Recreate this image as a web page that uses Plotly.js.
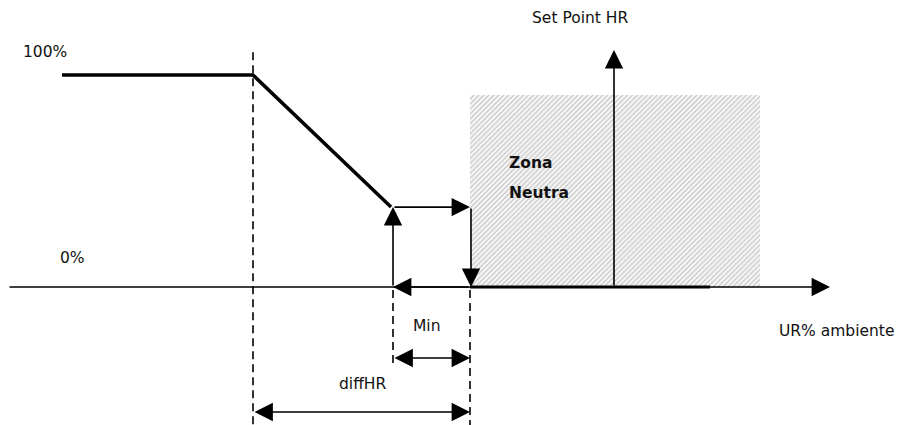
<!DOCTYPE html>
<html>
<head>
<meta charset="utf-8">
<script src="https://cdn.plot.ly/plotly-3.0.1.min.js"></script>
<style>
  html, body { margin: 0; padding: 0; background: #fff; }
  #chart { width: 901px; height: 425px; }
</style>
</head>
<body>
<div id="chart"></div>
<script>
// Humidifier output vs ambient RH (x = RH scale, y = output %)
const curveX = [62, 253, 391];
const curveY = [100, 100, 37.7];

// key RH points
const xAxisStart = 8, xAxisEnd = 830;
const xDiffStart = 253;     // set point - diffHR
const xMin = 393;           // start of Min band
const xOff = 470;           // end of band / start of neutral zone
const xSetPoint = 614;
const xNeutralEnd = 760;
const xOffLineEnd = 710;

const yMinLevel = 37.7;     // output at Min
const yNeutralTop = 90.6;
const ySetArrowTop = 111.8;
const yMinArrow = -33.5;
const yDiffArrow = -59;

const neutralX = [xOff, xNeutralEnd, xNeutralEnd, xOff, xOff];
const neutralY = [0, 0, yNeutralTop, yNeutralTop, 0];

const labels = [
  { text: '100%', x: 45, y: 110.8 },
  { text: '0%', x: 72, y: 13.7 },
  { text: 'Set Point HR', x: 580, y: 126.9 },
  { text: 'Min', x: 427, y: -18.4 },
  { text: 'diffHR', x: 362, y: -45.8 },
  { text: 'UR% ambiente', x: 837, y: -20.8 }
];

const font = { family: 'DejaVu Sans, Verdana, sans-serif', size: 15.5, color: '#111' };

const traces = [
  {
    x: neutralX, y: neutralY, mode: 'none', fill: 'toself',
    fillcolor: '#f6f6f6',
    fillpattern: { shape: '/', fgcolor: '#bdbdbd', bgcolor: '#f7f7f7', size: 3.5, solidity: 0.3 },
    hoverinfo: 'skip'
  },
  {
    x: curveX, y: curveY, mode: 'lines',
    line: { color: '#000', width: 3.5 }, hoverinfo: 'skip'
  },
  {
    x: [xOff, xOffLineEnd], y: [0, 0], mode: 'lines',
    line: { color: '#000', width: 3 }, hoverinfo: 'skip'
  }
];

function arrow(x0, y0, x1, y1, both) {
  return {
    x: x1, y: y1, ax: x0, ay: y0, xref: 'x', yref: 'y', axref: 'x', ayref: 'y',
    showarrow: true, arrowhead: 2, arrowsize: 2.3, arrowwidth: 1.6,
    arrowcolor: '#000', arrowside: both ? 'end+start' : 'end', text: ''
  };
}

const annotations = [
  arrow(xAxisStart, 0, xAxisEnd, 0),
  arrow(xSetPoint, 0, xSetPoint, ySetArrowTop),
  arrow(xMin, 0, xMin, yMinLevel),
  arrow(xMin, yMinLevel, xOff, yMinLevel),
  arrow(xOff + 1, yMinLevel, xOff + 1, 0),
  arrow(xOff, 0, xMin, 0),
  arrow(xMin, yMinArrow, xOff, yMinArrow, true),
  arrow(xDiffStart, yDiffArrow, xOff, yDiffArrow, true)
];

labels.forEach(l => {
  annotations.push({ x: l.x, y: l.y, xref: 'x', yref: 'y', text: l.text, showarrow: false, font: font });
});
annotations.push({ x: 507, y: 58.5, xref: 'x', yref: 'y', xanchor: 'left', text: '<b>Zona</b>', showarrow: false, font: font });
annotations.push({ x: 507, y: 44.3, xref: 'x', yref: 'y', xanchor: 'left', text: '<b>Neutra</b>', showarrow: false, font: font });

const dash = { color: '#000', width: 1.6, dash: '8px,5px' };
const shapes = [
  { type: 'line', x0: xDiffStart, x1: xDiffStart, y0: 110.8, y1: -65.1, line: dash },
  { type: 'line', x0: xMin, x1: xMin, y0: -1.4, y1: -38.2, line: dash },
  { type: 'line', x0: xOff, x1: xOff, y0: -1.4, y1: -65.1, line: dash }
];

const layout = {
  width: 901, height: 425,
  margin: { l: 0, r: 0, t: 0, b: 0 },
  paper_bgcolor: '#fff', plot_bgcolor: '#fff',
  showlegend: false,
  xaxis: { range: [0, 901], visible: false, fixedrange: true },
  yaxis: { range: [-65.1, 135.4], visible: false, fixedrange: true },
  annotations: annotations,
  shapes: shapes
};

Plotly.newPlot('chart', traces, layout, { staticPlot: true });
</script>
</body>
</html>
